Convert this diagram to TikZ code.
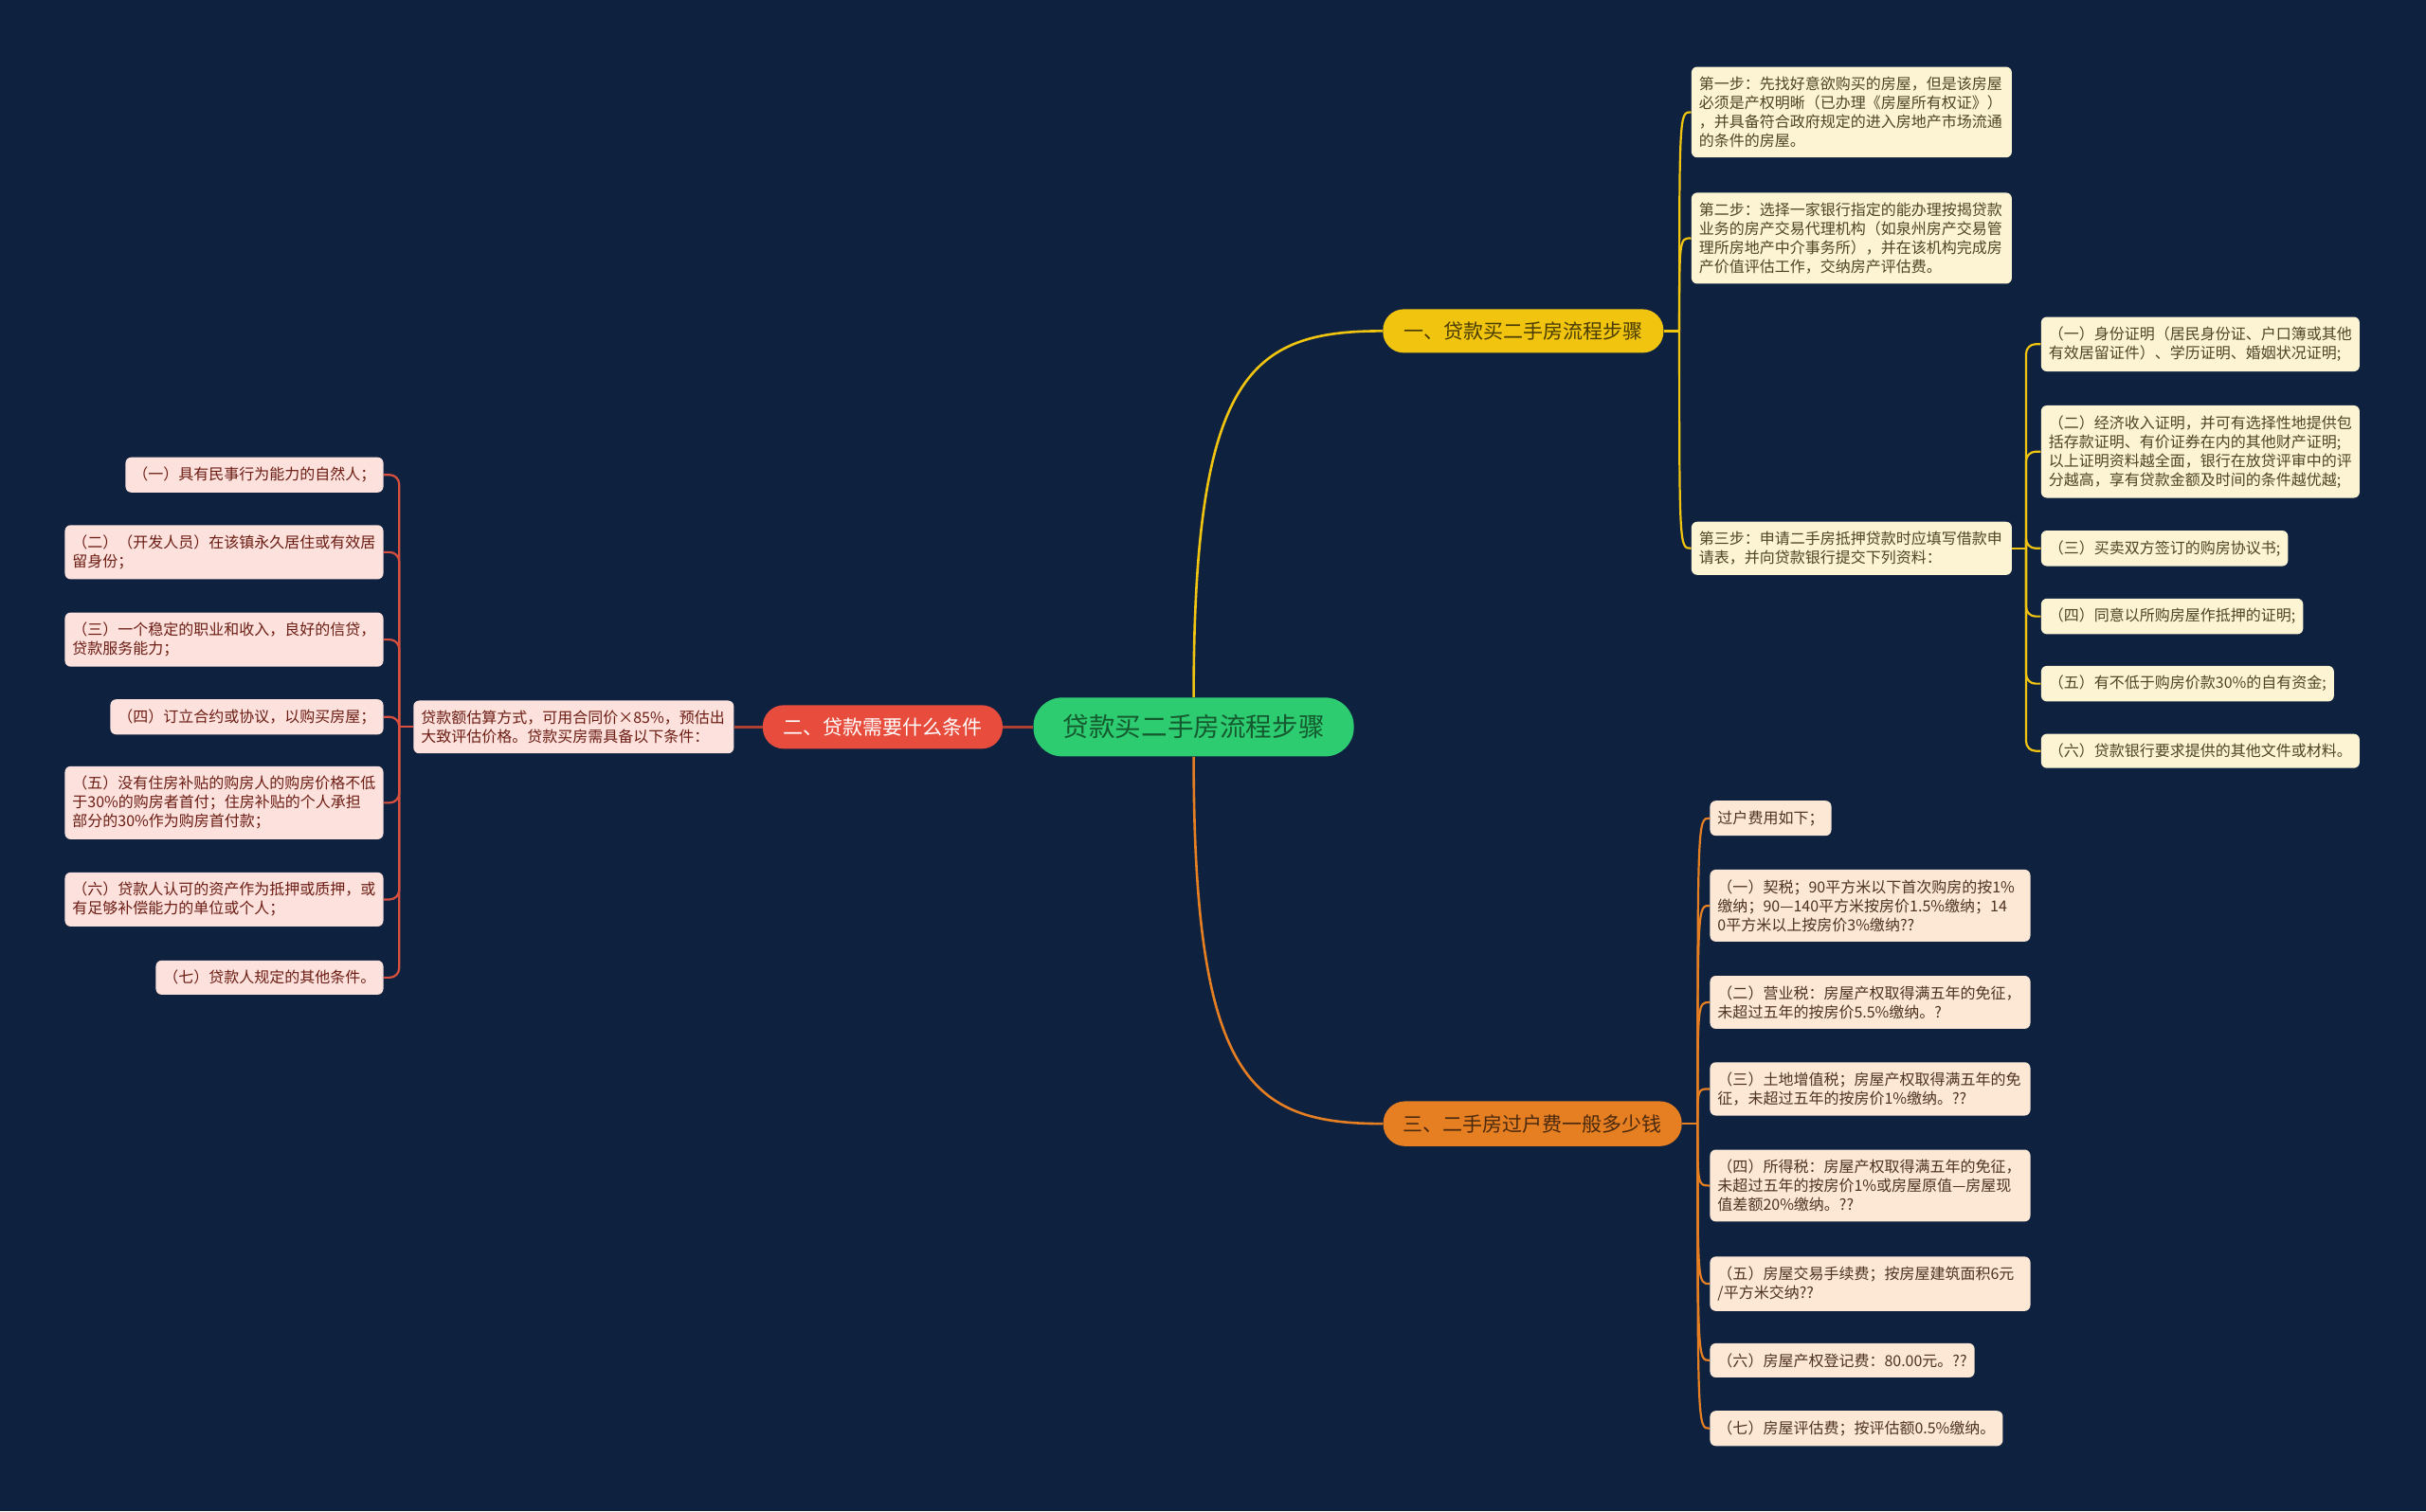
\documentclass[tikz,border=0pt]{standalone}
\usepackage{fontspec}
\setmainfont{Noto Sans CJK SC}
\usetikzlibrary{calc}
\definecolor{bg}{HTML}{0E2240}
\definecolor{rootfill}{HTML}{2ECC71}
\definecolor{roottext}{HTML}{145A2E}
\definecolor{yel}{HTML}{F1C40F}
\definecolor{yeltext}{HTML}{4A3C05}
\definecolor{red1}{HTML}{E74C3C}
\definecolor{redline}{HTML}{D9503F}
\definecolor{org}{HTML}{E67E22}
\definecolor{orgtext}{HTML}{4A2A0E}
\definecolor{cream}{HTML}{FDF4D3}
\definecolor{creamtext}{HTML}{4D4526}
\definecolor{pink}{HTML}{FDE1DC}
\definecolor{pinktext}{HTML}{6B1D14}
\definecolor{peach}{HTML}{FDE8D6}
\definecolor{peachtext}{HTML}{4D3320}
\begin{document}
\begin{tikzpicture}[x=0.8163pt,y=-0.8163pt,
  leaf/.style={rounded corners=3pt, inner xsep=4pt, inner ysep=5.2pt,
    font=\fontsize{8pt}{10pt}\selectfont, align=left},
  yleaf/.style={leaf, fill=cream, text=creamtext},
  rleaf/.style={leaf, fill=pink, text=pinktext},
  oleaf/.style={leaf, fill=peach, text=peachtext},
  tw/.style={text width=#1pt},
  branch/.style={inner sep=0pt, font=\fontsize{10.5pt}{12pt}\selectfont, minimum height=23pt},
  yline/.style={draw=yel, line width=1.3pt},
  yline2/.style={draw=yel, line width=1.1pt, rounded corners=5pt},
  rline/.style={draw=redline, line width=1.1pt, rounded corners=5pt},
  rmain/.style={draw=redline!80!black, line width=1.5pt},
  oline/.style={draw=org, line width=1.3pt},
  oline2/.style={draw=org, line width=1.1pt}
]
\useasboundingbox (0,0) rectangle (1568,977);
\fill[bg] (0,0) rectangle (1568,977);

% root and branches
\node[fill=rootfill, text=roottext, rounded corners=15pt, minimum width=169pt, minimum height=31pt,
  inner sep=0pt, font=\fontsize{13.8pt}{16pt}\selectfont] (root) at (771.5,470) {贷款买二手房流程步骤};
\node[branch, fill=yel, text=yeltext, rounded corners=11pt, minimum width=148pt] (b1) at (984.5,214) {一、贷款买二手房流程步骤};
\node[branch, fill=red1, text=white, rounded corners=11pt, minimum width=126.5pt] (b2) at (570.5,470) {二、贷款需要什么条件};
\node[branch, fill=org, text=orgtext, rounded corners=11.5pt, minimum width=157.5pt, minimum height=23.7pt] (b3) at (990.5,726.5) {三、二手房过户费一般多少钱};

% branch 1 children
\node[yleaf, tw=161, anchor=west] (s1) at (1093,72.5) {第一步：先找好意欲购买的房屋，但是该房屋\\必须是产权明晰（已办理《房屋所有权证》）\\，并具备符合政府规定的进入房地产市场流通\\的条件的房屋。};
\node[yleaf, tw=161, anchor=west] (s2) at (1093,154) {第二步：选择一家银行指定的能办理按揭贷款\\业务的房产交易代理机构（如泉州房产交易管\\理所房地产中介事务所），并在该机构完成房\\产价值评估工作，交纳房产评估费。};
\node[yleaf, tw=161, anchor=west] (s3) at (1093,354.5) {第三步：申请二手房抵押贷款时应填写借款申\\请表，并向贷款银行提交下列资料：};
\node[yleaf, tw=160, anchor=west] (c1) at (1319,222.5) {（一）身份证明（居民身份证、户口簿或其他\\有效居留证件）、学历证明、婚姻状况证明;};
\node[yleaf, tw=160, anchor=west] (c2) at (1319,292) {（二）经济收入证明，并可有选择性地提供包\\括存款证明、有价证券在内的其他财产证明;\\以上证明资料越全面，银行在放贷评审中的评\\分越高，享有贷款金额及时间的条件越优越;};
\node[yleaf, anchor=west] (c3) at (1319,354.5) {（三）买卖双方签订的购房协议书;};
\node[yleaf, anchor=west] (c4) at (1319,398.5) {（四）同意以所购房屋作抵押的证明;};
\node[yleaf, anchor=west] (c5) at (1319,442) {（五）有不低于购房价款30\%的自有资金;};
\node[yleaf, anchor=west] (c6) at (1319,485.5) {（六）贷款银行要求提供的其他文件或材料。};

% branch 2 children
\node[rleaf, tw=161, anchor=west] (l0) at (267,470) {贷款额估算方式，可用合同价×85\%，预估出\\大致评估价格。贷款买房需具备以下条件：};
\node[rleaf, anchor=east] (l1) at (248,307) {（一）具有民事行为能力的自然人；};
\node[rleaf, tw=160, anchor=east] (l2) at (248,357) {（二）（开发人员）在该镇永久居住或有效居\\留身份；};
\node[rleaf, tw=160, anchor=east] (l3) at (248,413.5) {（三）一个稳定的职业和收入，良好的信贷，\\贷款服务能力；};
\node[rleaf, anchor=east] (l4) at (248,463.5) {（四）订立合约或协议，以购买房屋；};
\node[rleaf, tw=160, anchor=east] (l5) at (248,519) {（五）没有住房补贴的购房人的购房价格不低\\于30\%的购房者首付；住房补贴的个人承担\\部分的30\%作为购房首付款；};
\node[rleaf, tw=160, anchor=east] (l6) at (248,581.5) {（六）贷款人认可的资产作为抵押或质押，或\\有足够补偿能力的单位或个人；};
\node[rleaf, anchor=east] (l7) at (248,632) {（七）贷款人规定的其他条件。};

% branch 3 children
\node[oleaf, anchor=west] (o0) at (1105,529) {过户费用如下；};
\node[oleaf, tw=161, anchor=west] (o1) at (1105,585.5) {（一）契税；90平方米以下首次购房的按1\%\\缴纳；90—140平方米按房价1.5\%缴纳；14\\0平方米以上按房价3\%缴纳??};
\node[oleaf, tw=161, anchor=west] (o2) at (1105,648) {（二）营业税：房屋产权取得满五年的免征，\\未超过五年的按房价5.5\%缴纳。?};
\node[oleaf, tw=161, anchor=west] (o3) at (1105,704) {（三）土地增值税；房屋产权取得满五年的免\\征，未超过五年的按房价1\%缴纳。??};
\node[oleaf, tw=161, anchor=west] (o4) at (1105,766.5) {（四）所得税：房屋产权取得满五年的免征，\\未超过五年的按房价1\%或房屋原值—房屋现\\值差额20\%缴纳。??};
\node[oleaf, tw=161, anchor=west] (o5) at (1105,830) {（五）房屋交易手续费；按房屋建筑面积6元\\/平方米交纳??};
\node[oleaf, anchor=west] (o6) at (1105,879.5) {（六）房屋产权登记费：80.00元。??};
\node[oleaf, anchor=west] (o7) at (1105,923.5) {（七）房屋评估费；按评估额0.5\%缴纳。};

% root connectors
\draw[yline] (root.north) .. controls ($(root.north)+(0,-210)$) and ($(b1.west)+(-85,0)$) .. (b1.west);
\draw[oline] (root.south) .. controls ($(root.south)+(0,210)$) and ($(b3.west)+(-85,0)$) .. (b3.west);
\draw[rmain] (root.west) -- (b2.east);
\draw[rmain] (b2.west) -- (l0.east);

% branch 1 connectors
\draw[yline2] (b1.east) -- ++(10,0) coordinate (sp1);
\foreach \n in {s1,s2,s3}
  \draw[yline2, rounded corners=0pt] (sp1) .. controls (sp1 |- \n.west) .. (\n.west);
\draw[yline2] (s3.east) -- ++(9,0) coordinate (sp3);
\foreach \n in {c1,c2,c3,c4,c5,c6}
  \draw[yline2] (sp3) |- (\n.west);

% branch 2 connectors
\draw[rline] (l0.west) -- ++(-9,0) coordinate (spl);
\foreach \n in {l1,l2,l3,l4,l5,l6,l7}
  \draw[rline] (spl) |- (\n.east);

% branch 3 connectors
\draw[oline2] (b3.east) -- ++(10,0) coordinate (spo);
\foreach \n in {o0,o1,o2,o3,o4,o5,o6,o7}
  \draw[oline2] (spo) .. controls (spo |- \n.west) .. (\n.west);
\end{tikzpicture}
\end{document}
